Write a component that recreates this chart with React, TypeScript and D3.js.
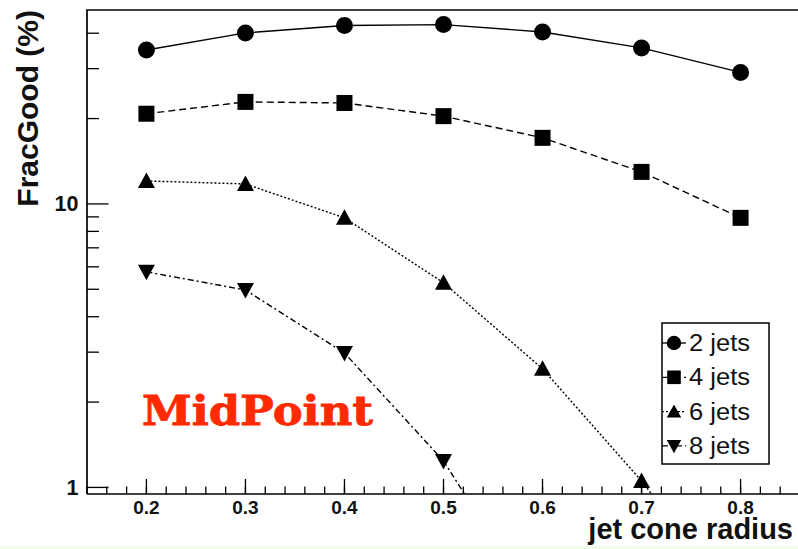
import React from "react";
import * as d3 from "d3";

// Jet cone radius values and FracGood (%) for each jet multiplicity
const radii = [0.2, 0.3, 0.4, 0.5, 0.6, 0.7, 0.8];
const jets2 = [34.9, 40.1, 42.6, 42.9, 40.4, 35.5, 29.1];
const jets4 = [20.8, 22.9, 22.7, 20.4, 17.1, 12.97, 8.93];
const jets6 = [12.05, 11.76, 8.93, 5.27, 2.62, 1.054, 0.37];
const jets8 = [5.76, 4.97, 2.98, 1.24, 0.35];

const seriesNames = ["2 jets", "4 jets", "6 jets", "8 jets"];
const xMajorTicks = [0.2, 0.3, 0.4, 0.5, 0.6, 0.7, 0.8];
const yMajorTicks = [1, 10];
const yMinorTicks = [2, 3, 4, 5, 6, 7, 8, 9, 20, 30, 40];

const W = 798;
const H = 549;
const left = 87;
const right = 800;
const top = 10;
const bottom = 494;

const x = d3.scaleLinear().domain([0.14, 0.86]).range([left, right]);
const y = d3.scaleLog().domain([0.948, 48.3]).range([bottom, top]);

type Shape = "circle" | "square" | "tri" | "itri";

const series: { name: string; values: number[]; shape: Shape; dash: string }[] = [
  { name: seriesNames[0], values: jets2, shape: "circle", dash: "none" },
  { name: seriesNames[1], values: jets4, shape: "square", dash: "7,4" },
  { name: seriesNames[2], values: jets6, shape: "tri", dash: "2,2" },
  { name: seriesNames[3], values: jets8, shape: "itri", dash: "6,3,2,3" },
];

function Marker({ shape, cx, cy, s = 1 }: { shape: Shape; cx: number; cy: number; s?: number }) {
  if (shape === "circle") return <circle cx={cx} cy={cy} r={8.5 * s} fill="#000" />;
  if (shape === "square")
    return <rect x={cx - 8 * s} y={cy - 8 * s} width={16 * s} height={16 * s} fill="#000" />;
  if (shape === "tri") {
    const p = `M${cx - 8.5 * s},${cy + 7 * s}L${cx + 8.5 * s},${cy + 7 * s}L${cx},${cy - 8.5 * s}Z`;
    return <path d={p} fill="#000" />;
  }
  const p = `M${cx - 8.5 * s},${cy - 7 * s}L${cx + 8.5 * s},${cy - 7 * s}L${cx},${cy + 8.5 * s}Z`;
  return <path d={p} fill="#000" />;
}

export default function App() {
  const line = d3
    .line<[number, number]>()
    .x((d) => x(d[0]))
    .y((d) => y(d[1]));

  const xMinor = d3.range(0.14, 0.861, 0.02).map((v) => +v.toFixed(2));
  const font = "'Liberation Sans', Arial, Helvetica, sans-serif";

  const legX = 662;
  const legY = 323;
  const legW = 107;
  const legH = 141;
  const legRow = (i: number) => 343 + i * 34.3;

  return (
    <svg
      width={W}
      height={H}
      style={{ position: "absolute", left: 0, top: 0, background: "#fff" }}
      fontFamily={font}
    >
      <defs>
        <clipPath id="frame">
          <rect x={left} y={top} width={right - left} height={bottom - top} />
        </clipPath>
      </defs>
      <rect x={0} y={0} width={W} height={H} fill="#fff" />
      <rect x={0} y={546} width={W} height={3} fill="#effce9" />

      {/* frame */}
      <path
        d={`M${left},${bottom}L${left},${top}L${right},${top}`}
        fill="none"
        stroke="#000"
        strokeWidth={1.7}
      />
      <line x1={left} x2={right} y1={bottom} y2={bottom} stroke="#000" strokeWidth={1.7} />

      {/* x ticks */}
      {xMinor.map((v) => (
        <line key={"xm" + v} x1={x(v)} x2={x(v)} y1={bottom} y2={bottom - 7.5} stroke="#000" strokeWidth={1.3} />
      ))}
      {xMajorTicks.map((v) => (
        <g key={"xM" + v}>
          <line x1={x(v)} x2={x(v)} y1={bottom} y2={bottom - 15} stroke="#000" strokeWidth={1.3} />
          <text x={x(v)} y={514} textAnchor="middle" fontSize={19} fontWeight="bold" fill="#111">
            {v.toFixed(1)}
          </text>
        </g>
      ))}

      {/* y ticks */}
      {yMinorTicks.map((v) => (
        <line key={"ym" + v} x1={left} x2={left + 12} y1={y(v)} y2={y(v)} stroke="#000" strokeWidth={1.3} />
      ))}
      {yMajorTicks.map((v) => (
        <g key={"yM" + v}>
          <line x1={left} x2={left + 21.5} y1={y(v)} y2={y(v)} stroke="#000" strokeWidth={1.3} />
          <text x={78.5} y={y(v) + 7.5} textAnchor="end" fontSize={21.5} fontWeight="bold" fill="#111">
            {v}
          </text>
        </g>
      ))}

      {/* axis titles */}
      <text x={793} y={539} textAnchor="end" fontSize={29} fontWeight="bold" fill="#111">
        jet cone radius
      </text>
      <text
        transform="translate(37.5,10) rotate(-90)"
        textAnchor="end"
        fontSize={30}
        fontWeight="bold"
        fill="#111"
      >
        FracGood (%)
      </text>

      {/* series */}
      <g clipPath="url(#frame)">
        {series.map((s) => {
          const pts = s.values.map((v, i) => [radii[i], v] as [number, number]);
          return (
            <g key={s.name}>
              <path
                d={line(pts) || ""}
                fill="none"
                stroke="#000"
                strokeWidth={1.4}
                strokeDasharray={s.dash}
              />
              {pts.map((p, i) => (
                <Marker key={i} shape={s.shape} cx={x(p[0])} cy={y(p[1])} />
              ))}
            </g>
          );
        })}
      </g>

      {/* label */}
      <text
        x={142}
        y={425}
        fontFamily="'DejaVu Serif', serif"
        fontWeight="bold"
        fontSize={41}
        fill="#ff2a00"
        stroke="#ff2a00"
        strokeWidth={0.8}
        textLength={231}
        lengthAdjust="spacingAndGlyphs"
      >
        MidPoint
      </text>

      {/* legend */}
      <rect x={legX} y={legY} width={legW} height={legH} fill="#fff" stroke="#000" strokeWidth={1.5} />
      {series.map((s, i) => (
        <g key={"leg" + s.name}>
          <line
            x1={legX}
            x2={686}
            y1={legRow(i)}
            y2={legRow(i)}
            stroke="#000"
            strokeWidth={1.3}
            strokeDasharray={s.dash}
          />
          <Marker shape={s.shape} cx={674} cy={legRow(i)} s={0.85} />
          <text
            x={689}
            y={legRow(i) + 8}
            fontSize={23}
            fill="#111"
            textLength={61}
            lengthAdjust="spacingAndGlyphs"
          >
            {s.name}
          </text>
        </g>
      ))}
    </svg>
  );
}
